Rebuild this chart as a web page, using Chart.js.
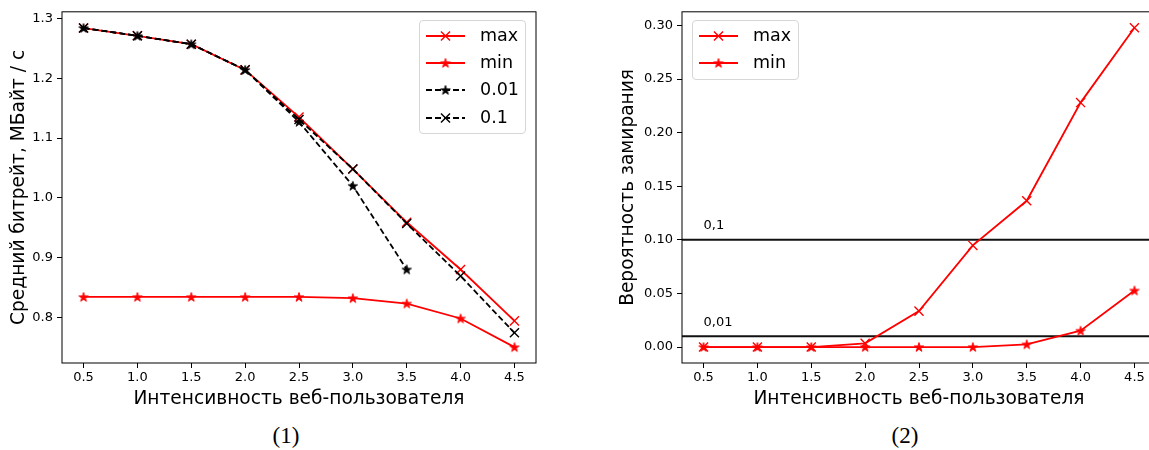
<!DOCTYPE html>
<html>
<head>
<meta charset="utf-8">
<script src="https://cdn.jsdelivr.net/npm/chart.js@4.4.1/dist/chart.umd.min.js"></script>
<style>
  html, body { margin: 0; padding: 0; background: #fff; }
  body { position: relative; width: 1149px; height: 450px; overflow: hidden; font-family: "DejaVu Sans", sans-serif; }
  canvas.plot { position: absolute; top: 0; }
  .legend { position: absolute; border: 1px solid #d6d6d6; border-radius: 4px; background: rgba(255,255,255,0.85); box-sizing: border-box; }
  .legend .item { position: absolute; left: 0; height: 20px; }
  .legend canvas { position: absolute; left: 6px; top: 2px; }
  .legend span { position: absolute; left: 60px; top: -2px; font-size: 17.5px; line-height: 22px; color: #000; white-space: nowrap; }
  .caption { position: absolute; top: 422px; width: 80px; text-align: center; font-family: "Liberation Serif", serif; font-size: 23px; line-height: 28px; color: #000; }
</style>
</head>
<body>
<canvas id="bitrate-chart" class="plot" width="560" height="410" style="left:0px"></canvas>
<canvas id="freeze-chart" class="plot" width="580" height="410" style="left:600px"></canvas>
<div id="legend-bitrate" class="legend" style="left:419px; top:20px; width:107px; height:114px"></div>
<div id="legend-freeze" class="legend" style="left:692px; top:20px; width:107px; height:60px"></div>
<div class="caption" style="left:246px">(1)</div>
<div class="caption" style="left:865px">(2)</div>
<script>
const xValues = [0.5, 1.0, 1.5, 2.0, 2.5, 3.0, 3.5, 4.0, 4.5];
const xTickValues = [0.5, 1.0, 1.5, 2.0, 2.5, 3.0, 3.5, 4.0, 4.5];
const xRange = [0.3, 4.7];

// (1) средний битрейт
const bitrateMax = [1.284, 1.271, 1.257, 1.214, 1.135, 1.048, 0.959, 0.880, 0.794];
const bitrateMin = [0.834, 0.834, 0.834, 0.834, 0.834, 0.832, 0.823, 0.798, 0.750];
const bitrateP001 = [1.284, 1.271, 1.257, 1.214, 1.127, 1.020, 0.880];
const bitrateP01 = [1.284, 1.271, 1.257, 1.214, 1.131, 1.048, 0.957, 0.869, 0.774];
const bitrateTicks = [0.8, 0.9, 1.0, 1.1, 1.2, 1.3];
const bitrateRange = [0.7235, 1.3112];

// (2) вероятность замирания
const freezeMax = [0, 0, 0, 0.0034, 0.0335, 0.0948, 0.1364, 0.228, 0.2978];
const freezeMin = [0, 0, 0, 0, 0, 0, 0.0025, 0.0152, 0.0527];
const freezeTicks = [0, 0.05, 0.10, 0.15, 0.20, 0.25, 0.30];
const freezeRange = [-0.0149, 0.3127];
const thresholds = [0.1, 0.01];
const thresholdLabels = ['0,1', '0,01'];
const thresholdLabelX = 0.5;

const RED = '#ff0000';
const BLACK = '#000000';
const DASH = [6, 3];
const LINE_W = 1.8;

function starImage(color) {
  const size = 12;
  const c = document.createElement('canvas');
  c.width = size; c.height = size;
  const ctx = c.getContext('2d');
  const r = 4.9, ri = r * 0.382, cx = size / 2, cy = size / 2 + 0.4;
  ctx.beginPath();
  for (let i = 0; i < 10; i++) {
    const a = -Math.PI / 2 + i * Math.PI / 5;
    const rr = i % 2 ? ri : r;
    ctx.lineTo(cx + rr * Math.cos(a), cy + rr * Math.sin(a));
  }
  ctx.closePath();
  ctx.fillStyle = color;
  ctx.fill();
  ctx.lineWidth = 0.9;
  ctx.strokeStyle = color;
  ctx.stroke();
  return c;
}
const starRed = starImage(RED);
const starBlack = starImage(BLACK);

function toPoints(values) {
  return values.map((v, i) => ({ x: xValues[i], y: v }));
}

function series(label, values, color, marker, dashed, order) {
  const isCross = marker === 'x';
  return {
    label,
    data: toPoints(values),
    borderColor: color,
    backgroundColor: color,
    borderWidth: LINE_W,
    borderDash: dashed ? DASH : [],
    pointStyle: isCross ? 'crossRot' : (color === RED ? starRed : starBlack),
    pointRadius: isCross ? 6.4 : 5,
    pointBorderColor: color,
    pointBackgroundColor: color,
    pointBorderWidth: 1.4,
    tension: 0,
    fill: false,
    order
  };
}

const frame = {
  id: 'frame',
  afterDraw(chart) {
    const { ctx, chartArea: a } = chart;
    ctx.save();
    ctx.strokeStyle = '#000';
    ctx.lineWidth = 1;
    ctx.strokeRect(a.left, a.top, a.right - a.left, a.bottom - a.top);
    ctx.restore();
  }
};

const thresholdLines = {
  id: 'thresholdLines',
  beforeDatasetsDraw(chart, args, opts) {
    if (!opts.values) return;
    const { ctx, chartArea: a, scales } = chart;
    ctx.save();
    opts.values.forEach((v, i) => {
      const y = scales.y.getPixelForValue(v);
      ctx.strokeStyle = '#111';
      ctx.lineWidth = 2;
      ctx.beginPath();
      ctx.moveTo(a.left, y);
      ctx.lineTo(a.right, y);
      ctx.stroke();
      ctx.fillStyle = '#000';
      ctx.font = '13px "DejaVu Sans"';
      ctx.textBaseline = 'alphabetic';
      ctx.textAlign = 'left';
      ctx.fillText(opts.labels[i], scales.x.getPixelForValue(opts.labelX), scales.y.getPixelForValue(v + 0.01));
    });
    ctx.restore();
  }
};

function tickFont() { return { family: 'DejaVu Sans', size: 13 }; }
function titleFont() { return { family: 'DejaVu Sans', size: 18.6 }; }

function buildOptions(yRange, yTicks, yDigits, yTitle, yWidth, yTitlePad, thresholdOpts) {
  return {
    responsive: false,
    animation: false,
    events: [],
    layout: { padding: { top: 10, right: 24, left: 0, bottom: 0 } },
    plugins: {
      legend: { display: false },
      tooltip: { enabled: false },
      thresholdLines: thresholdOpts
    },
    scales: {
      x: {
        type: 'linear',
        min: xRange[0],
        max: xRange[1],
        afterBuildTicks: s => { s.ticks = xTickValues.map(v => ({ value: v })); },
        afterFit: s => { s.height = 47; },
        grid: { drawOnChartArea: false, drawTicks: true, tickLength: 5, tickColor: '#000', tickWidth: 1 },
        border: { display: false },
        ticks: { color: '#000', font: tickFont(), padding: 2, maxRotation: 0, autoSkip: false, callback: v => v.toFixed(1) },
        title: { display: true, text: 'Интенсивность веб-пользователя', color: '#000', font: titleFont(), padding: { top: 0, bottom: 0 } }
      },
      y: {
        type: 'linear',
        min: yRange[0],
        max: yRange[1],
        afterBuildTicks: s => { s.ticks = yTicks.map(v => ({ value: v })); },
        afterFit: s => { s.width = yWidth; },
        grid: { drawOnChartArea: false, drawTicks: true, tickLength: 5, tickColor: '#000', tickWidth: 1 },
        border: { display: false },
        ticks: { color: '#000', font: tickFont(), padding: 4, autoSkip: false, callback: v => v.toFixed(yDigits) },
        title: { display: true, text: yTitle, color: '#000', font: titleFont(), padding: { top: yTitlePad, bottom: 0 } }
      }
    }
  };
}

new Chart(document.getElementById('bitrate-chart'), {
  type: 'line',
  data: {
    datasets: [
      series('max', bitrateMax, RED, 'x', false, 3),
      series('min', bitrateMin, RED, '*', false, 2),
      series('0.01', bitrateP001, BLACK, '*', true, 1),
      series('0.1', bitrateP01, BLACK, 'x', true, 0)
    ]
  },
  options: buildOptions(bitrateRange, bitrateTicks, 1, 'Средний битрейт, МБайт / с', 62, 8, {}),
  plugins: [frame, thresholdLines]
});

new Chart(document.getElementById('freeze-chart'), {
  type: 'line',
  data: {
    datasets: [
      series('max', freezeMax, RED, 'x', false, 1),
      series('min', freezeMin, RED, '*', false, 0)
    ]
  },
  options: buildOptions(freezeRange, freezeTicks, 2, 'Вероятность замирания', 82, 17,
    { values: thresholds, labels: thresholdLabels, labelX: thresholdLabelX }),
  plugins: [frame, thresholdLines]
});

// легенда как в matplotlib: линия с маркером посередине
function buildLegend(id, entries) {
  const box = document.getElementById(id);
  entries.forEach((e, i) => {
    const item = document.createElement('div');
    item.className = 'item';
    item.style.top = (5 + i * 27.2) + 'px';
    const c = document.createElement('canvas');
    c.width = 39; c.height = 16;
    const ctx = c.getContext('2d');
    ctx.strokeStyle = e.color;
    ctx.lineWidth = LINE_W;
    ctx.setLineDash(e.dashed ? DASH : []);
    ctx.beginPath();
    ctx.moveTo(0, 8);
    ctx.lineTo(39, 8);
    ctx.stroke();
    ctx.setLineDash([]);
    if (e.marker === 'x') {
      const d = 6.4 * Math.SQRT1_2;
      ctx.lineWidth = 1.4;
      ctx.beginPath();
      ctx.moveTo(19.5 - d, 8 - d); ctx.lineTo(19.5 + d, 8 + d);
      ctx.moveTo(19.5 - d, 8 + d); ctx.lineTo(19.5 + d, 8 - d);
      ctx.stroke();
    } else {
      const img = e.color === RED ? starRed : starBlack;
      ctx.drawImage(img, 19.5 - img.width / 2, 8 - img.height / 2);
    }
    const span = document.createElement('span');
    span.textContent = e.label;
    item.appendChild(c);
    item.appendChild(span);
    box.appendChild(item);
  });
}

buildLegend('legend-bitrate', [
  { label: 'max', color: RED, marker: 'x', dashed: false },
  { label: 'min', color: RED, marker: '*', dashed: false },
  { label: '0.01', color: BLACK, marker: '*', dashed: true },
  { label: '0.1', color: BLACK, marker: 'x', dashed: true }
]);
buildLegend('legend-freeze', [
  { label: 'max', color: RED, marker: 'x', dashed: false },
  { label: 'min', color: RED, marker: '*', dashed: false }
]);
</script>
</body>
</html>
